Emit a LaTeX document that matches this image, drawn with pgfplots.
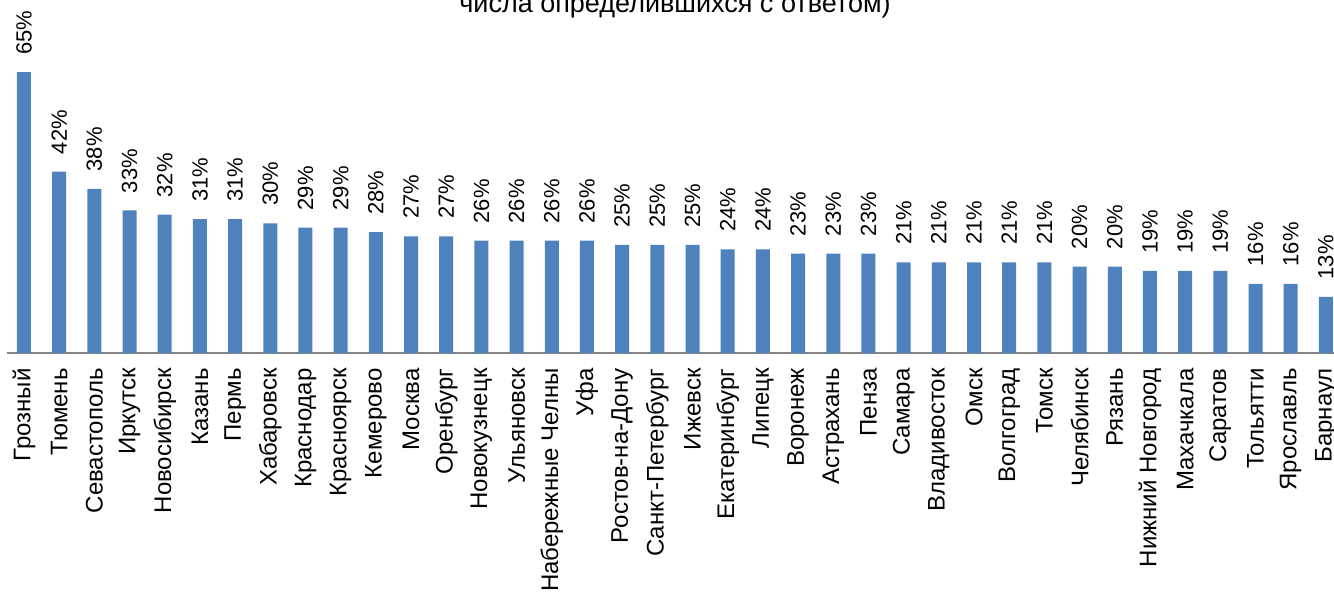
\documentclass[border=0pt]{standalone}
\usepackage{pgfplots}
\pgfplotsset{compat=1.18}
\usepackage{fontspec}
\setmainfont{Liberation Sans}
\definecolor{barblue}{HTML}{4F81BD}
\definecolor{axgray}{HTML}{868686}
\begin{document}
\begin{tikzpicture}
\path[use as bounding box] (0,0) rectangle (667pt,296pt);
\node[anchor=base, font=\fontsize{13.5}{16}\selectfont, inner sep=0pt] at (337.5pt,289.6pt) {числа определившихся с ответом)};
\begin{axis}[
  at={(3.5pt,119.5pt)}, anchor=south west,
  scale only axis, width=663.5pt, height=176.5pt,
  xmin=-0.483, xmax=37.23, ymin=0, ymax=81.7,
  axis x line*=bottom, axis y line=none,
  x axis line style={draw=axgray, line width=1pt, -},
  xtick={0,...,37}, major tick length=0pt,
  ytick=\empty,
  xticklabels={Грозный,Тюмень,Севастополь,Иркутск,Новосибирск,Казань,Пермь,Хабаровск,Краснодар,Красноярск,Кемерово,Москва,Оренбург,Новокузнецк,Ульяновск,Набережные Челны,Уфа,Ростов-на-Дону,Санкт-Петербург,Ижевск,Екатеринбург,Липецк,Воронеж,Астрахань,Пенза,Самара,Владивосток,Омск,Волгоград,Томск,Челябинск,Рязань,Нижний Новгород,Махачкала,Саратов,Тольятти,Ярославль,Барнаул},
  xticklabel style={rotate=90, anchor=east, font=\fontsize{12}{14}\selectfont, inner xsep=7.5pt, inner ysep=0pt},
  clip=false,
  ybar, bar width=7pt,
  /pgf/number format/assume math mode=true,
  nodes near coords={\pgfmathprintnumber{\pgfplotspointmeta}\%},
  every node near coord/.append style={rotate=90, anchor=west, font=\fontsize{11}{13}\selectfont, inner xsep=8.5pt, inner ysep=0pt, black},
]
\addplot[fill=barblue, draw=none] coordinates {
(0,65) (1,42) (2,38) (3,33) (4,32) (5,31) (6,31) (7,30) (8,29) (9,29)
(10,28) (11,27) (12,27) (13,26) (14,26) (15,26) (16,26) (17,25) (18,25) (19,25)
(20,24) (21,24) (22,23) (23,23) (24,23) (25,21) (26,21) (27,21) (28,21) (29,21)
(30,20) (31,20) (32,19) (33,19) (34,19) (35,16) (36,16) (37,13)
};
\end{axis}
\end{tikzpicture}
\end{document}
